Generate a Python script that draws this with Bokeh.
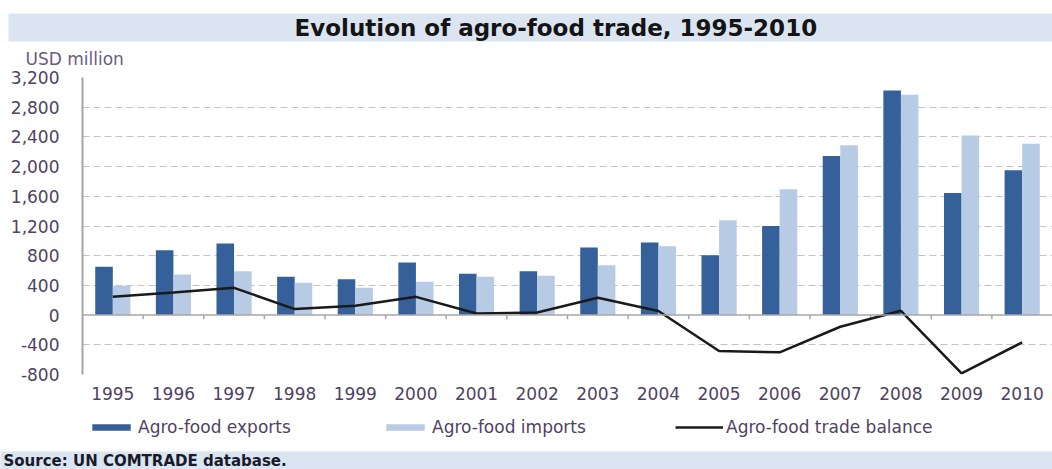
from bokeh.plotting import figure
from bokeh.layouts import column
from bokeh.models import (ColumnDataSource, FactorRange, Range1d, Legend, LegendItem,
                          Span, Title, FixedTicker, NumeralTickFormatter)
from bokeh.transform import dodge
from bokeh.embed import file_html
from bokeh.resources import INLINE

# ---------------- data ----------------
years = ["1995", "1996", "1997", "1998", "1999", "2000", "2001", "2002",
         "2003", "2004", "2005", "2006", "2007", "2008", "2009", "2010"]
exports = [650, 874, 964, 515, 484, 708, 556, 591, 910, 977, 807, 1201, 2142, 3025, 1645, 1950]
imports = [394, 547, 591, 435, 367, 448, 515, 529, 672, 928, 1277, 1694, 2286, 2967, 2420, 2309]
balance = [246, 305, 367, 81, 125, 246, 22, 36, 233, 55, -484, -502, -157, 58, -784, -367]
y_ticks = [-800, -400, 0, 400, 800, 1200, 1600, 2000, 2400, 2800, 3200]
title_text = "Evolution of agro-food trade, 1995-2010"
unit_text = "USD million"
series_names = ["Agro-food exports", "Agro-food imports", "Agro-food trade balance"]
source_line = "Source: UN COMTRADE database."

FONT = "DejaVu Sans"
BAND = "#dbe5f1"
TXT = "#4f4262"
C_EXP = "#35609a"
C_IMP = "#b7cbe5"
C_BAL = "#1a1a1a"

src = ColumnDataSource(dict(year=years, exports=exports, imports=imports, balance=balance))

# ================= main chart =================
p = figure(width=1052, height=408, x_range=FactorRange(*years), y_range=Range1d(-800, 3200),
           output_backend="svg", toolbar_location=None,
           min_border_left=82, min_border_right=0, min_border_top=77, min_border_bottom=34)
p.outline_line_color = None
p.background_fill_color = "white"
p.border_fill_color = "white"

# title band (outermost title)
p.title.text = title_text
p.title.align = "left"
p.title.offset = -74
p.title.standoff = 0
p.title.text_font = FONT
p.title.text_font_size = "23px"
p.title.text_font_style = "bold"
p.title.text_color = "#141414"
p.title.background_fill_color = BAND
p.title.padding = dict(left=286, right=235, top=1, bottom=1)

# unit label, just above the frame
p.add_layout(Title(text=unit_text, align="left", offset=-57, standoff=14,
                   vertical_align="top",
                   text_font=FONT, text_font_size="17px", text_font_style="normal",
                   text_line_height=1.0, text_color="#6b5a86"), "above")

# grid / axes
p.xgrid.visible = False
p.ygrid.ticker = FixedTicker(ticks=[v for v in y_ticks if v != 0])
p.ygrid.grid_line_color = "#c3c3c3"
p.ygrid.grid_line_dash = "7 4"
p.ygrid.grid_line_width = 1

p.yaxis.ticker = FixedTicker(ticks=y_ticks)
p.yaxis.formatter = NumeralTickFormatter(format="0,0")
p.yaxis.axis_line_color = "#a6a6a6"
p.yaxis.axis_line_width = 2
p.yaxis.major_tick_line_color = None
p.yaxis.minor_tick_line_color = None
p.yaxis.major_label_standoff = 17
p.yaxis.major_label_text_font = FONT
p.yaxis.major_label_text_font_size = "17px"
p.yaxis.major_label_text_color = TXT

p.xaxis.axis_line_color = None
p.xaxis.major_tick_line_color = None
p.xaxis.minor_tick_line_color = None
p.xaxis.major_label_standoff = 6
p.xaxis.major_label_text_font = FONT
p.xaxis.major_label_text_font_size = "17px"
p.xaxis.major_label_text_color = TXT

# bars
p.vbar(x=dodge("year", -0.145, range=p.x_range), top="exports", width=0.29,
       source=src, fill_color=C_EXP, line_color=None)
p.vbar(x=dodge("year", 0.145, range=p.x_range), top="imports", width=0.29,
       source=src, fill_color=C_IMP, line_color=None)

# zero line with category separators
p.add_layout(Span(location=0, dimension="width", line_color="#a6a6a6", line_width=1.5))
p.segment(x0=dodge("year", -0.5, range=p.x_range), y0=0,
          x1=dodge("year", -0.5, range=p.x_range), y1=-55,
          source=src, line_color="#a6a6a6", line_width=1.5)

# balance line
p.line(x="year", y="balance", source=src, line_color=C_BAL, line_width=2.5)

# ================= legend + source strip =================
q = figure(width=1052, height=61, x_range=Range1d(0, 1), y_range=Range1d(0, 1),
           output_backend="svg", toolbar_location=None, title=None,
           x_axis_location=None, y_axis_location=None,
           min_border_left=82, min_border_right=0, min_border_top=0, min_border_bottom=17)
q.grid.visible = False
q.outline_line_color = None
q.background_fill_color = "white"
q.border_fill_color = "white"

# legend keys only (one empty NaN row so the keys can be drawn)
nan = float("nan")
keys = ColumnDataSource(dict(x=[nan], top=[nan], y=[nan]))
k_exp = q.vbar(x="x", top="top", width=0.1, source=keys, fill_color=C_EXP, line_color=None)
k_imp = q.vbar(x="x", top="top", width=0.1, source=keys, fill_color=C_IMP, line_color=None)
k_bal = q.line(x="x", y="y", source=keys, line_color=C_BAL, line_width=2.5)

legend = Legend(items=[LegendItem(label=series_names[0], renderers=[k_exp]),
                       LegendItem(label=series_names[1], renderers=[k_imp]),
                       LegendItem(label=series_names[2], renderers=[k_bal])],
                orientation="horizontal", location=(5, 12), margin=0, padding=0,
                glyph_width=48, glyph_height=8, label_standoff=3, spacing=53,
                label_width=190, border_line_color=None, background_fill_alpha=0,
                label_text_font=FONT, label_text_font_size="17px", label_text_color=TXT)
q.add_layout(legend, "center")

q.add_layout(Title(text=source_line, align="left", offset=-82, standoff=0,
                   text_font=FONT, text_font_size="15px", text_font_style="bold",
                   text_color="#1a1a2a", background_fill_color=BAND,
                   padding=dict(left=3, right=800, top=0, bottom=0)), "below")

layout = column(p, q, spacing=0)
open("out.html", "w").write(file_html(layout, INLINE))
